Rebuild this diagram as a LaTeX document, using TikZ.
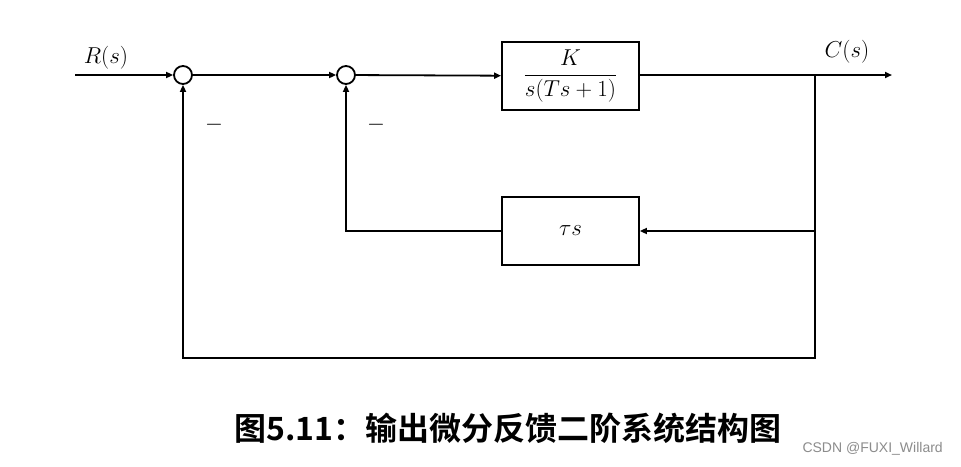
\RequirePackage{fix-cm}
\documentclass[tikz,border=0pt]{standalone}
\usepackage{amsmath}
\usepackage{fontspec}
\newfontfamily\cjk{Noto Sans CJK SC}[BoldFont={* Bold}]
\newfontfamily\wm{Liberation Sans}
\usetikzlibrary{arrows.meta}
\begin{document}
\begin{tikzpicture}[x=1pt,y=-1pt,
  line width=1.8pt,
  arr/.style={-{Triangle[length=7pt,width=6pt]}},
  sumnode/.style={circle,draw,minimum size=18pt,inner sep=0pt},
  blk/.style={draw,minimum width=137pt,minimum height=68pt,inner sep=0pt},
  lbl/.style={font=\fontsize{23}{26}\selectfont}]
\useasboundingbox (0,0) rectangle (961,466);
\fill[white] (0,0) rectangle (961,466);
\coordinate (in) at (75,75);
\node[sumnode] (s1) at (183,75) {};
\node[sumnode] (s2) at (346,75) {};
\node[blk,lbl] (G) at (570.5,76) {$\dfrac{K}{s(Ts+1)}$};
\node[blk,lbl] (H) at (570.5,231) {$\tau s$};
\coordinate (out) at (892,75);
\coordinate (br) at (815,75);
\coordinate (br2) at (815,231);
\coordinate (bot) at (815,358);
\draw[arr] (in) -- (s1);
\draw[arr] (s1) -- (s2);
\draw[arr] (s2) -- (G);
\draw[arr] (G.east |- out) -- (out);
\draw[arr] (br) -- (bot) -| (s1);
\draw[arr] (br2) -- (H);
\draw[arr] (H) -| (s2);
\node[lbl] (R) at (106,58) {$R(s)$};
\node[lbl] (C) at (847,52) {$C(s)$};
\node[lbl] (m1) at (214,125) {$-$};
\node[lbl] (m2) at (376,125) {$-$};
\node (cap) at (508,428) {\cjk\bfseries\fontsize{32}{34}\selectfont 图5.11：输出微分反馈二阶系统结构图};
\node[text=black!45,anchor=east] (wm) at (947,449) {\wm\fontsize{14}{16}\selectfont CSDN @FUXI\_Willard};
\end{tikzpicture}
\end{document}
